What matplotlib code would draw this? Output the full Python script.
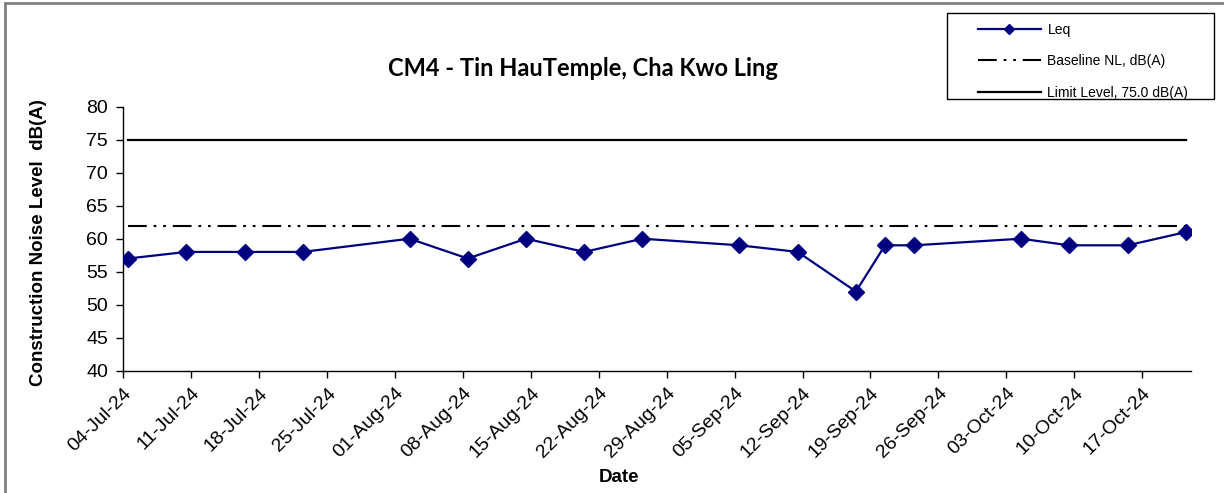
import matplotlib
matplotlib.use("Agg")
import matplotlib.pyplot as plt
import matplotlib.dates as mdates
from matplotlib.patches import Rectangle
import pandas as pd

# survey dates and measured Leq values
dates = ["2024-07-04", "2024-07-10", "2024-07-16", "2024-07-22", "2024-08-02",
         "2024-08-08", "2024-08-14", "2024-08-20", "2024-08-26", "2024-09-05",
         "2024-09-11", "2024-09-17", "2024-09-20", "2024-09-23", "2024-10-04",
         "2024-10-09", "2024-10-15", "2024-10-21"]
leq = [57, 58, 58, 58, 60, 57, 60, 58, 60, 59, 58, 52, 59, 59, 60, 59, 59, 61]
baseline = 62
limit = 75.0

tick_dates = ["2024-07-04", "2024-07-11", "2024-07-18", "2024-07-25", "2024-08-01",
              "2024-08-08", "2024-08-15", "2024-08-22", "2024-08-29", "2024-09-05",
              "2024-09-12", "2024-09-19", "2024-09-26", "2024-10-03", "2024-10-10",
              "2024-10-17"]

plt.rcParams['font.family'] = ['Liberation Sans', 'DejaVu Sans']

W, H = 1224, 493
x = pd.to_datetime(dates) + pd.Timedelta(hours=12)

fig = plt.figure(figsize=(W / 100, H / 100), dpi=100)
ax = fig.add_axes([0.1007, 0.248, 0.8721, 0.5356])

ax.plot(x, leq, color='#000080', lw=1.6, marker='D', markersize=8.5, label='Leq', zorder=3)
ax.plot(x, [baseline] * len(x), color='black', lw=1.5,
        dashes=(9, 3.3, 1.3, 3.3, 1.3, 3.3), label='Baseline NL, dB(A)')
ax.plot(x, [limit] * len(x), color='black', lw=1.6, label='Limit Level, 75.0 dB(A)')

ax.set_xlim(pd.Timestamp("2024-07-04"), pd.Timestamp("2024-10-22"))
ax.set_ylim(40, 80)
ax.set_yticks(range(40, 81, 5))
ax.set_xticks(pd.to_datetime(tick_dates))
ax.xaxis.set_major_formatter(mdates.DateFormatter('%d-%b-%y'))
plt.setp(ax.get_xticklabels(), rotation=45, ha='right', rotation_mode='anchor')
ax.tick_params(labelsize=14, length=5, width=1, direction='out')
ax.tick_params(axis='x', pad=5)
ax.tick_params(axis='y', pad=6)

for s in ['top', 'right']:
    ax.spines[s].set_visible(False)
for s in ['left', 'bottom']:
    ax.spines[s].set_linewidth(1)

ax.set_ylabel('Construction Noise Level  dB(A)', fontsize=13.5, fontweight='bold')
ax.yaxis.set_label_coords(-0.0715, 0.486)
ax.set_xlabel('Date', fontsize=13.5, fontweight='bold')
ax.xaxis.set_label_coords(0.464, -0.372)

fig.text(0.476, 0.862, 'CM4 - Tin HauTemple, Cha Kwo Ling', fontsize=17,
         fontweight='bold', family='Lato', ha='center', va='center')

# legend box drawn separately so its padding matches
fig.patches.append(Rectangle((947 / W, 1 - 99 / H), 267 / W, 86 / H, transform=fig.transFigure,
                             fill=False, edgecolor='black', lw=1))
leg = fig.legend(loc='upper left', bbox_to_anchor=(978 / W, 1 - 23 / H),
                 fontsize=10, frameon=False, borderpad=0, labelspacing=1.25,
                 handlelength=4.5, handletextpad=0.5, borderaxespad=0)
for h in leg.get_lines():
    if h.get_marker() == 'D':
        h.set_markersize(5)

fig.patches.append(Rectangle((5 / W, -0.5), 2, 1.5 - 3 / H, transform=fig.transFigure,
                             fill=False, edgecolor='#808080', lw=2))

fig.savefig('out.png', dpi=100)
